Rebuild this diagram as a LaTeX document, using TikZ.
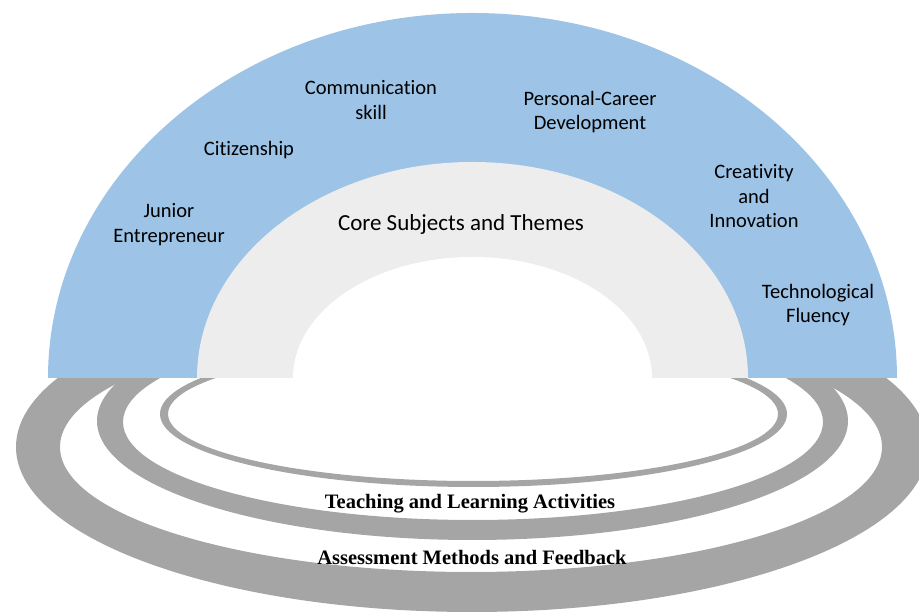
\documentclass[tikz,border=0pt]{standalone}
\usepackage{fontspec}
\setmainfont{Carlito}[Ligatures={NoCommon,NoRare,NoContextual}]
\newfontfamily\serifbold{Liberation Serif}
\definecolor{archblue}{HTML}{9DC3E6}
\definecolor{archgray}{HTML}{EDEDED}
\definecolor{ringgray}{HTML}{A5A5A5}
\begin{document}
\begin{tikzpicture}[x=1pt,y=1pt,
  ring/.style={fill=ringgray, even odd rule},
  lbl/.style={font=\fontsize{20.5}{24.5}\selectfont, align=center, inner sep=0pt, text=black},
  corelbl/.style={font=\fontsize{23}{27}\selectfont, align=center, inner sep=0pt, text=black},
  ringlbl/.style={font=\serifbold\bfseries\fontsize{20.5}{24}\selectfont, inner sep=0pt, text=black}]
\useasboundingbox (0,0) rectangle (919,612);
% rings
\fill[ring] (472,165) ellipse [x radius=456, y radius=165] (471,165) ellipse [x radius=411, y radius=125];
\fill[ring] (472.5,191) ellipse [x radius=375.5, y radius=119] (473,190) ellipse [x radius=350, y radius=98];
\fill[ring] (473.5,198) ellipse [x radius=313.5, y radius=73] (473,198) ellipse [x radius=305, y radius=67];
% arches
\fill[archblue] (48,234) arc[start angle=180, end angle=0, x radius=424.5, y radius=365] -- cycle;
\fill[archgray] (197,234) arc[start angle=180, end angle=0, x radius=275.5, y radius=216] -- cycle;
\fill[white] (293,234) arc[start angle=180, end angle=0, x radius=179.5, y radius=121] -- cycle;
% labels
\node[lbl] (comm) at (371,512) {Communication\\skill};
\node[lbl] (pers) at (590,500) {Personal-Career\\Development};
\node[lbl] (citi) at (249,462) {Citizenship};
\node[lbl] (junior) at (169,387.5) {Junior\\Entrepreneur};
\node[lbl] (creat) at (754,415.5) {Creativity\\and\\Innovation};
\node[lbl] (tech) at (818,307) {Technological\\Fluency};
\node[corelbl] (core) at (461,388) {Core Subjects and Themes};
\node[ringlbl] (teach) at (470,108) {Teaching and Learning Activities};
\node[ringlbl] (assess) at (472,55) {Assessment Methods and Feedback};
\end{tikzpicture}
\end{document}
